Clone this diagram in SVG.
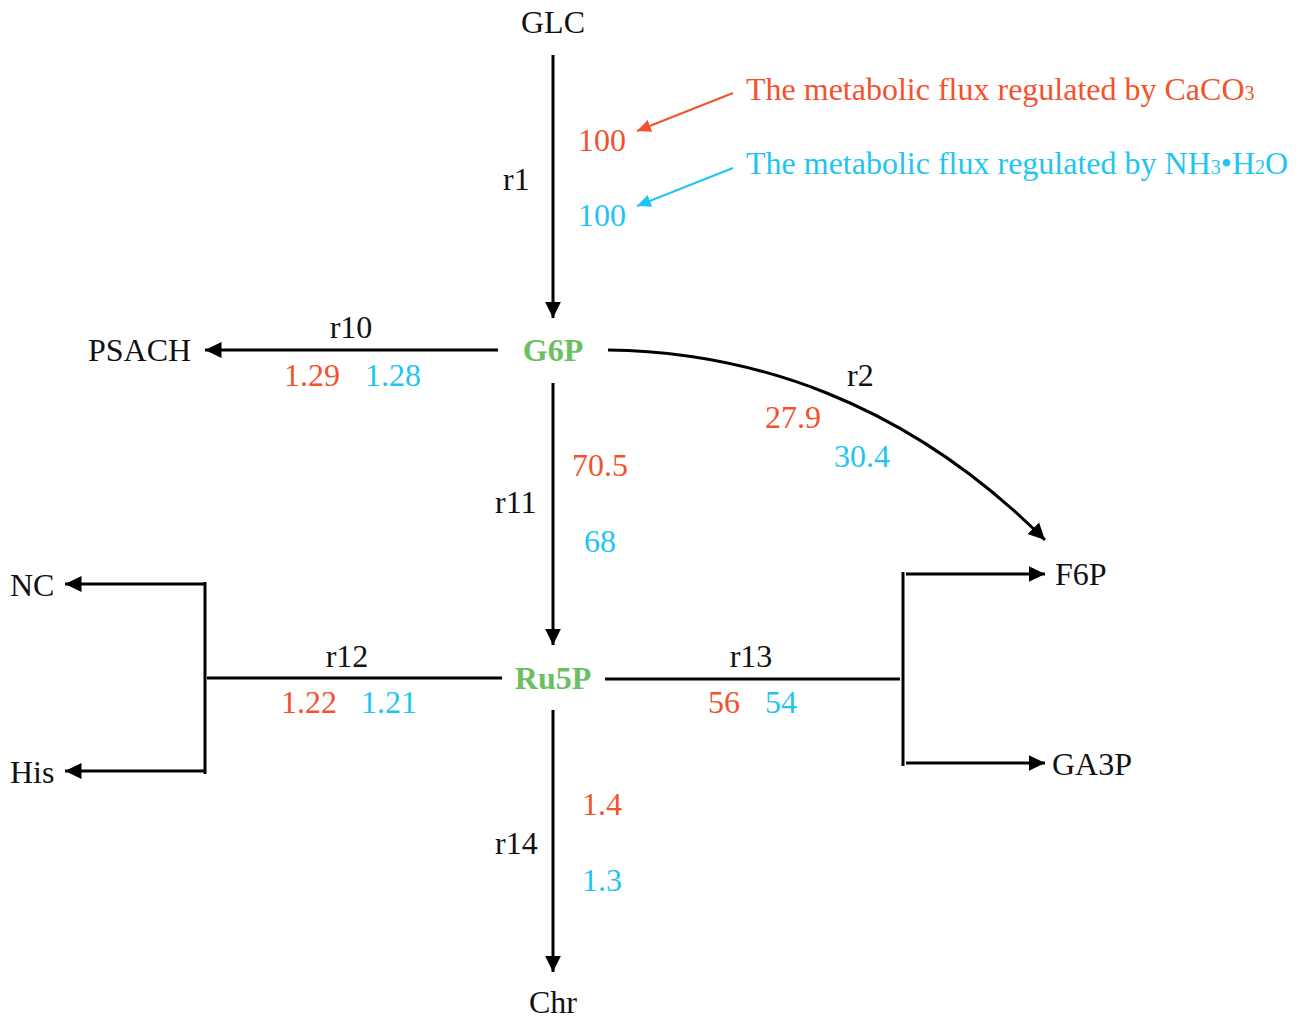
<svg xmlns="http://www.w3.org/2000/svg" width="1308" height="1020" viewBox="0 0 1308 1020">
  <style>
    text { font-family: "Liberation Serif", "Times New Roman", serif; font-size: 32px; }
    .blk { fill: #111; }
    .red { fill: #f2522e; }
    .blu { fill: #1fc5f2; }
    .met { fill: #6cbf63; font-weight: bold; }
    .mid { text-anchor: middle; }
    .edge { stroke: #000; stroke-width: 3; fill: none; }
    .ptr-red { stroke: #f2522e; stroke-width: 2; fill: none; }
    .ptr-blu { stroke: #1fc5f2; stroke-width: 2; fill: none; }
  </style>
  <defs>
    <marker id="head" markerWidth="6" markerHeight="6" refX="5.5" refY="3" orient="auto" markerUnits="strokeWidth">
      <path d="M0,0.3 L5.5,3 L0,5.7 Z" fill="#000"/>
    </marker>
    <marker id="head-red" markerWidth="8" markerHeight="8" refX="7" refY="4" orient="auto" markerUnits="strokeWidth">
      <path d="M0,0.8 L7,4 L0,7.2 Z" fill="#f2522e"/>
    </marker>
    <marker id="head-blu" markerWidth="8" markerHeight="8" refX="7" refY="4" orient="auto" markerUnits="strokeWidth">
      <path d="M0,0.8 L7,4 L0,7.2 Z" fill="#1fc5f2"/>
    </marker>
  </defs>

  <rect width="1308" height="1020" fill="#fff"/>

  <!-- connectors -->
  <g id="connectors">
    <!-- r1 GLC -> G6P -->
    <line class="edge" x1="553" y1="55" x2="553" y2="318" marker-end="url(#head)"/>
    <!-- r10 G6P -> PSACH -->
    <line class="edge" x1="498" y1="350" x2="205" y2="350" marker-end="url(#head)"/>
    <!-- r2 G6P -> F6P -->
    <path class="edge" d="M608,350 C750,352 905,400 1045,540" marker-end="url(#head)"/>
    <!-- r11 G6P -> Ru5P -->
    <line class="edge" x1="553" y1="383" x2="553" y2="645" marker-end="url(#head)"/>
    <!-- r12 Ru5P -> NC / His -->
    <line class="edge" x1="502" y1="678" x2="207" y2="678"/>
    <line class="edge" x1="205" y1="582" x2="205" y2="774"/>
    <line class="edge" x1="205" y1="584" x2="65" y2="584" marker-end="url(#head)"/>
    <line class="edge" x1="205" y1="771" x2="65" y2="771" marker-end="url(#head)"/>
    <!-- r13 Ru5P -> F6P / GA3P -->
    <line class="edge" x1="605" y1="679" x2="900" y2="679"/>
    <line class="edge" x1="903" y1="572" x2="903" y2="766"/>
    <line class="edge" x1="906" y1="574" x2="1045" y2="574" marker-end="url(#head)"/>
    <line class="edge" x1="906" y1="763" x2="1045" y2="763" marker-end="url(#head)"/>
    <!-- r14 Ru5P -> Chr -->
    <line class="edge" x1="553" y1="710" x2="553" y2="972" marker-end="url(#head)"/>
    <!-- legend pointers -->
    <line class="ptr-red" x1="733" y1="93" x2="637" y2="131" marker-end="url(#head-red)"/>
    <line class="ptr-blu" x1="733" y1="168" x2="637" y2="206" marker-end="url(#head-blu)"/>
  </g>

  <!-- metabolites -->
  <g id="GLC"><text class="blk mid" x="553" y="33">GLC</text></g>
  <g id="G6P"><text class="met mid" x="553" y="361">G6P</text></g>
  <g id="PSACH"><text class="blk" x="88" y="361">PSACH</text></g>
  <g id="Ru5P"><text class="met mid" x="553" y="689">Ru5P</text></g>
  <g id="NC"><text class="blk" x="10" y="596">NC</text></g>
  <g id="His"><text class="blk" x="10" y="783">His</text></g>
  <g id="F6P"><text class="blk" x="1055" y="585">F6P</text></g>
  <g id="GA3P"><text class="blk" x="1052" y="775">GA3P</text></g>
  <g id="Chr"><text class="blk mid" x="553" y="1013">Chr</text></g>

  <!-- reaction labels and flux values -->
  <g id="labels">
    <text class="blk" x="503" y="190">r1</text>
    <text class="red" x="578" y="151">100</text>
    <text class="blu" x="578" y="226">100</text>

    <text class="blk mid" x="351" y="338">r10</text>
    <text class="red" x="284" y="386">1.29</text>
    <text class="blu" x="365" y="386">1.28</text>

    <text class="blk" x="847" y="386">r2</text>
    <text class="red" x="765" y="428">27.9</text>
    <text class="blu" x="834" y="467">30.4</text>

    <text class="red" x="572" y="476">70.5</text>
    <text class="blk" x="495" y="513">r11</text>
    <text class="blu" x="584" y="552">68</text>

    <text class="blk mid" x="347" y="667">r12</text>
    <text class="red" x="281" y="713">1.22</text>
    <text class="blu" x="361" y="713">1.21</text>

    <text class="blk mid" x="751" y="667">r13</text>
    <text class="red" x="708" y="713">56</text>
    <text class="blu" x="765" y="713">54</text>

    <text class="red" x="582" y="815">1.4</text>
    <text class="blk" x="495" y="854">r14</text>
    <text class="blu" x="582" y="891">1.3</text>
  </g>

  <!-- legend -->
  <g id="legend">
    <text class="red" x="746" y="100">The metabolic flux regulated by CaCO<tspan font-size="20">3</tspan></text>
    <text class="blu" x="746" y="174">The metabolic flux regulated by NH<tspan font-size="20">3</tspan>•H<tspan font-size="20">2</tspan>O</text>
  </g>
</svg>
